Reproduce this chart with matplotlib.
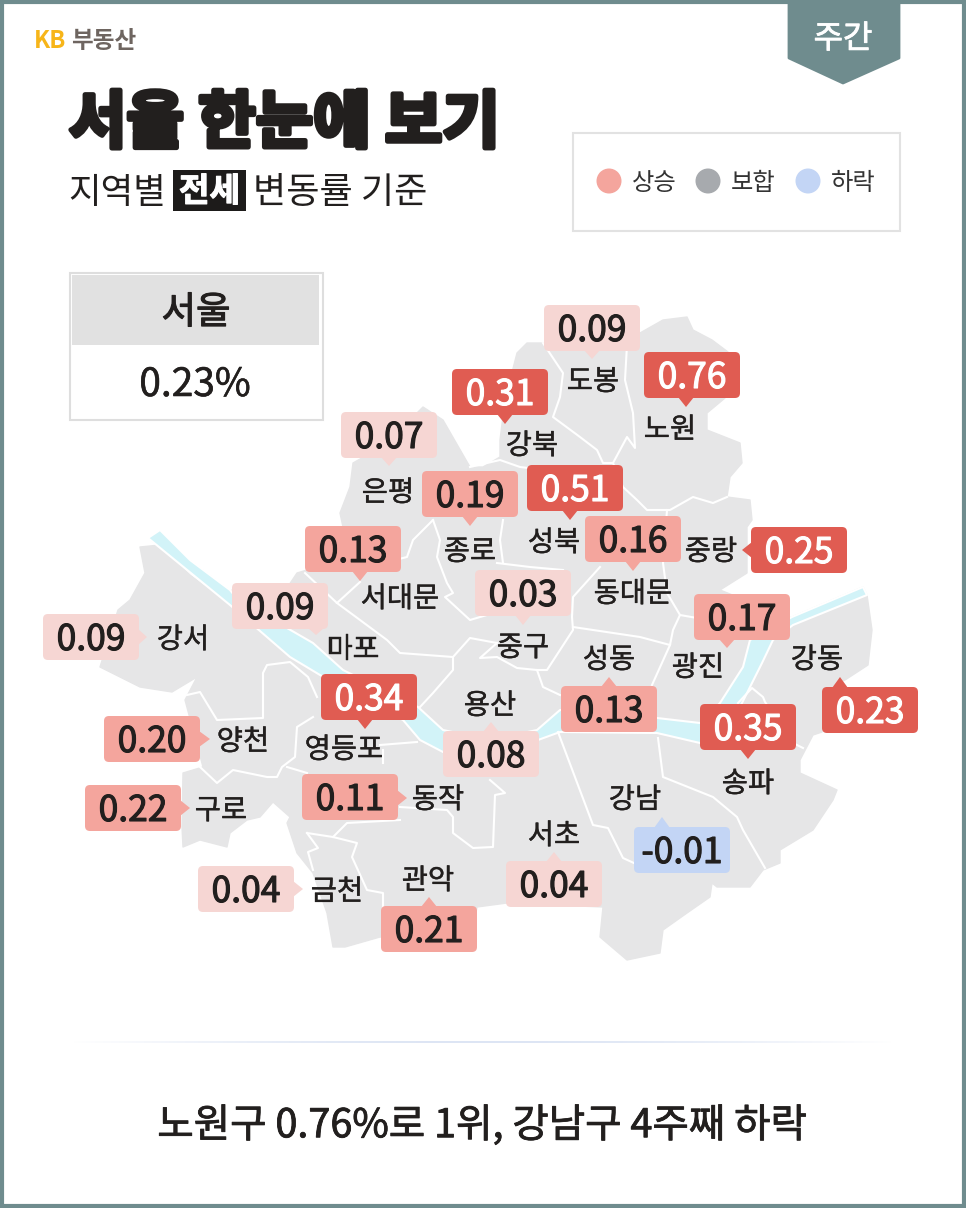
import numpy as np
from matplotlib import pyplot as plt
from matplotlib import patheffects as pe
from matplotlib.patches import Polygon, Rectangle, FancyBboxPatch, Circle

plt.rcParams['font.family'] = ['Noto Sans CJK KR', 'DejaVu Sans']

districts = ['도봉', '노원', '강북', '은평', '종로', '성북', '동대문', '중랑', '서대문', '마포', '중구', '강서', '광진',
             '성동', '강동', '영등포', '용산', '양천', '구로', '동작', '송파', '강남', '서초', '금천', '관악']
values = [0.09, 0.76, 0.31, 0.07, 0.19, 0.51, 0.16, 0.25, 0.13, 0.09, 0.03, 0.09, 0.17,
          0.13, 0.23, 0.34, 0.08, 0.20, 0.22, 0.11, 0.35, -0.01, 0.04, 0.04, 0.21]
seoul_value = 0.23
legend_labels = ['상승', '보합', '하락']
headline = '노원구 0.76%로 1위, 강남구 4주째 하락'

# layout, pixels of the 966x1208 picture
box_left = [544, 644, 452, 341, 422, 527, 585, 751, 305, 232, 475, 43, 694,
            561, 822, 321, 443, 104, 85, 302, 700, 634, 506, 198, 381]
box_top = [305, 352, 369, 412, 471, 465, 516, 527, 526, 583, 570, 614, 594,
           686, 687, 674, 731, 716, 785, 774, 704, 827, 861, 866, 906]
tip_x = [592, 686, 505, 389, 470, 570, 633, 742, 360, 316, 523, 147, 727,
         609, 840, 365, 491, 210, 190, 407, 748, 662, 554, 303, 429]
tip_y = [359, 407, 424, 466, 526, 520, 571, 550, 581, 635, 625, 637, 648,
         677, 677, 729, 722, 739, 808, 798, 759, 817, 852, 889, 897]
name_x = [593, 670, 532, 388, 470, 554, 633, 711, 400, 353, 523, 183, 698,
          609, 817, 344, 490, 243, 221, 438, 748, 635, 554, 337, 428]
name_y = [379, 427, 443, 490, 549, 540, 591, 549, 596, 647, 645, 637, 665,
          657, 657, 747, 703, 739, 808, 797, 781, 797, 833, 889, 878]
box_w, box_h = 96, 46

outline = [(517, 353), (527, 343), (543, 343), (560, 340), (600, 335), (640, 333), (663, 320), (687, 317), (693, 330),
           (712, 340), (728, 352), (725, 398), (707, 413), (707, 430), (740, 443), (742, 463), (730, 477), (727, 497),
           (750, 500), (752, 520), (747, 527), (747, 573), (720, 590), (745, 600), (770, 625), (792, 617), (863, 587),
           (867, 595), (872, 630), (868, 665), (845, 680), (825, 690), (822, 732), (813, 735), (800, 760), (800, 773),
           (837, 790), (833, 800), (813, 830), (780, 850), (780, 863), (763, 870), (750, 887), (717, 887), (712, 883),
           (710, 897), (687, 913), (663, 930), (660, 953), (627, 960), (600, 937), (603, 907), (507, 903), (477, 907),
           (470, 945), (380, 937), (345, 947), (333, 947), (327, 913), (313, 873), (297, 853), (287, 823), (290, 817),
           (273, 802), (260, 817), (247, 820), (230, 833), (227, 847), (200, 840), (183, 847), (182, 827), (183, 773),
           (203, 767), (185, 700), (197, 677), (172, 692), (140, 687), (120, 677), (100, 667), (118, 610), (130, 600),
           (145, 573), (140, 547), (160, 545), (190, 575), (230, 605), (232, 590), (287, 588), (297, 573), (307, 570),
           (343, 527), (340, 513), (350, 487), (353, 463), (385, 445), (423, 407), (443, 420), (470, 467), (483, 467),
           (500, 457), (500, 440), (505, 400)]
river_top = [(148, 538), (160, 530), (190, 560), (230, 590), (260, 628), (287, 628), (313, 643), (343, 670), (418, 707),
             (443, 730), (490, 740), (537, 730), (560, 710), (657, 718), (700, 723), (720, 703), (743, 667), (750, 640),
             (792, 617), (863, 587)]
river_bottom = [(867, 595), (793, 625), (773, 640), (762, 663), (740, 707), (700, 743), (657, 733), (560, 732), (538, 740),
                (490, 758), (443, 752), (420, 740), (403, 720), (320, 675), (290, 657), (230, 605)]
borders = [
    [(627, 345), (625, 380), (633, 413), (635, 448), (627, 437), (613, 463), (623, 487), (637, 500), (647, 510), (670, 510),
     (693, 497), (713, 503), (727, 497)],
    [(667, 510), (663, 563), (667, 593), (680, 615), (673, 630), (670, 645), (652, 685)],
    [(543, 343), (563, 373), (560, 397), (553, 417), (580, 437), (597, 450), (603, 463), (613, 463)],
    [(470, 467), (500, 460), (520, 467), (545, 470)],
    [(433, 520), (413, 540), (407, 557), (395, 560)],
    [(305, 573), (337, 603), (360, 582)],
    [(337, 603), (360, 620), (387, 640), (400, 653), (453, 657), (470, 638), (497, 643)],
    [(453, 657), (453, 670), (433, 693), (420, 707)],
    [(433, 520), (440, 540), (437, 557), (447, 583), (453, 593), (445, 597), (470, 620), (497, 612)],
    [(497, 563), (530, 567), (563, 570)],
    [(503, 520), (500, 540), (503, 563)],
    [(600, 567), (573, 597), (572, 617), (573, 630), (547, 670), (537, 670)],
    [(497, 643), (480, 658), (497, 657), (517, 668), (537, 670), (543, 687), (560, 695)],
    [(573, 627), (640, 637), (670, 645)],
    [(680, 615), (697, 618)],
    [(558, 732), (593, 825), (608, 828), (623, 858), (636, 864)],
    [(658, 738), (663, 777), (713, 797), (737, 817), (743, 830), (765, 868)],
    [(490, 780), (505, 793), (495, 795), (493, 847), (473, 848), (453, 833), (453, 817), (447, 810), (400, 807)],
    [(333, 837), (347, 823), (400, 820)],
    [(307, 833), (318, 848), (308, 852), (313, 870)],
    [(307, 833), (333, 837), (357, 843), (352, 857), (367, 890), (383, 893), (383, 907)],
    [(200, 767), (217, 783), (233, 770), (267, 777), (277, 777), (282, 767), (295, 757), (297, 727), (313, 717)],
    [(287, 767), (307, 773)],
    [(187, 695), (200, 692), (217, 720), (263, 718), (263, 673), (267, 665), (290, 662), (308, 677), (317, 697)],
    [(380, 745), (417, 742)],
    [(383, 750), (383, 763)],
    [(803, 748), (793, 743), (765, 702), (763, 697), (752, 688), (738, 703)],
]

INK = '#221f1e'
FRAME = '#6f8c8e'
MAP_GREY = '#e6e6e7'
RIVER = '#d2f3f8'


def box_colors(v):
    if v < 0:
        return '#c3d5f5', INK
    if v >= 0.23:
        return '#e05c52', 'white'
    if v >= 0.10:
        return '#f4a59d', INK
    return '#f6d6d3', INK


def arrow_points(left, top, tx, ty):
    right, bottom = left + box_w, top + box_h
    if ty > bottom:
        return [(tx - 8, bottom - 1), (tx + 8, bottom - 1), (tx, ty)]
    if ty < top:
        return [(tx - 8, top + 1), (tx + 8, top + 1), (tx, ty)]
    if tx > right:
        return [(right - 1, ty - 8), (right - 1, ty + 8), (tx, ty)]
    return [(left + 1, ty - 8), (left + 1, ty + 8), (tx, ty)]


def thicken(text, width):
    text.set_path_effects([pe.withStroke(linewidth=width, foreground=text.get_color())])


figure = plt.figure(figsize=(9.66, 12.08), dpi=100, facecolor='white')
ax = figure.add_axes([0, 0, 1, 1])
ax.set_xlim(0, 966)
ax.set_ylim(1208, 0)
ax.axis('off')

# frame and weekly tag
ax.add_patch(Rectangle((2, 2), 962, 1204, fill=False, ec=FRAME, lw=3))
ax.add_patch(Polygon([(789, 0), (899, 0), (899, 58), (843, 83), (789, 58)], fc=FRAME, ec=FRAME, lw=2, joinstyle='round'))
thicken(ax.text(843, 39, '주간', color='white', fontsize=23, ha='center', va='center'), 0.6)

# header
ax.text(34, 41, 'KB', color='#f7b519', fontsize=17, weight='bold', ha='left', va='center')
ax.text(71, 41, '부동산', color='#6e6560', fontsize=17, weight='bold', ha='left', va='center')
thicken(ax.text(69, 124, '서울 한눈에 보기', color=INK, fontsize=45, weight='bold', ha='left', va='center'), 3.5)
ax.text(68, 193, '지역별', color=INK, fontsize=25.5, ha='left', va='center')
ax.add_patch(Rectangle((173, 170), 73, 41, fc='#1d1b1a', ec='none'))
thicken(ax.text(209.5, 192, '전세', color='white', fontsize=24, weight='bold', ha='center', va='center'), 0.8)
ax.text(253, 193, '변동률 기준', color=INK, fontsize=26, ha='left', va='center')

# legend
ax.add_patch(Rectangle((572.5, 132.5), 327, 98, fc='white', ec='#e2e2e2', lw=1.5))
legend_colors = ['#f4a59d', '#a7aaae', '#c3d5f5']
legend_x = [609, 708, 808]
for x, c, label in zip(legend_x, legend_colors, legend_labels):
    ax.add_patch(Circle((x, 181), 12.5, fc=c, ec='none'))
    ax.text(x + 23, 183, label, color='#333333', fontsize=17.5, ha='left', va='center')

# seoul box
ax.add_patch(Rectangle((69.5, 272.5), 253, 147, fc='white', ec='#dedede', lw=1.5))
ax.add_patch(Rectangle((72, 275), 247, 70, fc='#e1e1e1', ec='none'))
thicken(ax.text(196, 313, '서울', color=INK, fontsize=27, ha='center', va='center'), 0.8)
thicken(ax.text(195, 385, f'{seoul_value:.2f}%', color=INK, fontsize=28, ha='center', va='center'), 0.4)

# map
ax.add_patch(Polygon(outline, fc=MAP_GREY, ec=MAP_GREY, lw=1, joinstyle='round', zorder=1))
ax.add_patch(Polygon(river_top + river_bottom, fc=RIVER, ec='white', lw=1.5, joinstyle='round', zorder=2))
for line in borders:
    xs, ys = zip(*line)
    ax.plot(xs, ys, color='white', lw=1.5, solid_joinstyle='round', zorder=3)

for name, v, left, top, tx, ty, nx, ny in zip(districts, values, box_left, box_top, tip_x, tip_y, name_x, name_y):
    fc, tc = box_colors(v)
    thicken(ax.text(nx, ny + 3, name, color=INK, fontsize=20.5, ha='center', va='center', zorder=4), 0.3)
    ax.add_patch(FancyBboxPatch((left, top), box_w, box_h, boxstyle='round,pad=0,rounding_size=5',
                                fc=fc, ec='none', zorder=5))
    ax.add_patch(Polygon(arrow_points(left, top, tx, ty), fc=fc, ec='none', zorder=5))
    thicken(ax.text(left + box_w / 2, top + box_h / 2 + 3, f'{v:.2f}', color=tc, fontsize=25.5,
                    ha='center', va='center', zorder=6), 0.8)

# divider fading out at both ends, then the headline
fade = np.sin(np.linspace(0, np.pi, 200))[None, :, None]
divider = np.concatenate([np.full((1, 200, 3), [0.87, 0.90, 0.96]), fade], axis=2)
ax.imshow(divider, extent=(70, 895, 1043, 1041), aspect='auto', zorder=1)
ax.set_xlim(0, 966)
ax.set_ylim(1208, 0)
thicken(ax.text(482, 1126, headline, color=INK, fontsize=28.5, ha='center', va='center'), 0.6)

figure.savefig('out.png', dpi=100, facecolor='white')
